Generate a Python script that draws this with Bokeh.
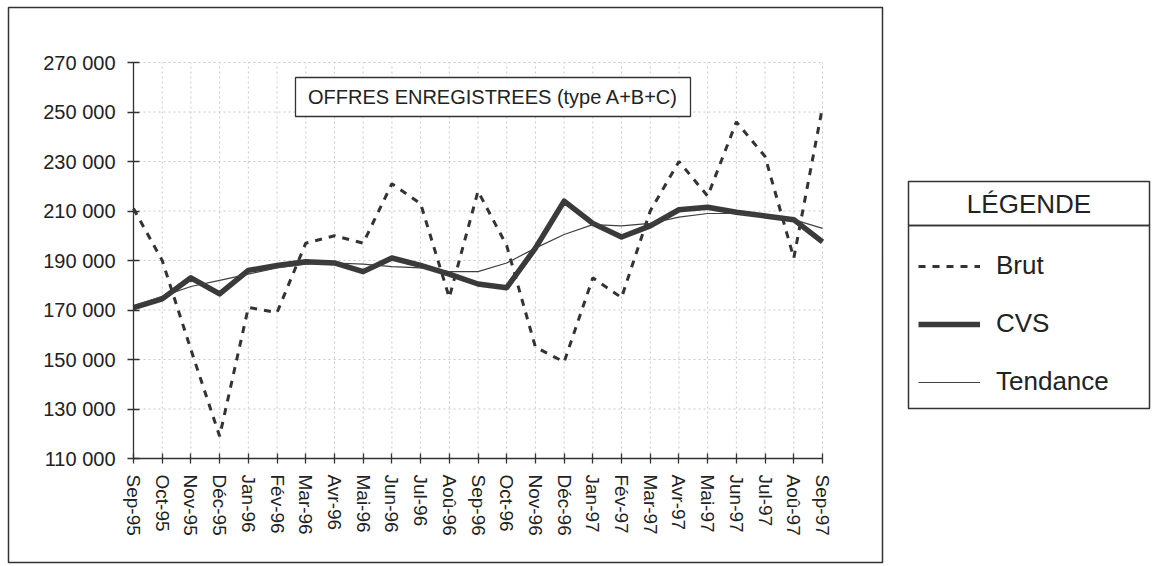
from bokeh.plotting import figure
from bokeh.models import Range1d, FixedTicker, BoxAnnotation, Label, Legend, LegendItem
from bokeh.embed import file_html
from bokeh.resources import INLINE

# ---- data ----
months = ["Sep-95", "Oct-95", "Nov-95", "Déc-95", "Jan-96", "Fév-96", "Mar-96", "Avr-96",
          "Mai-96", "Jun-96", "Jul-96", "Aoû-96", "Sep-96", "Oct-96", "Nov-96", "Déc-96",
          "Jan-97", "Fév-97", "Mar-97", "Avr-97", "Mai-97", "Jun-97", "Jul-97", "Aoû-97", "Sep-97"]
brut = [211000, 190000, 154000, 119000, 171000, 169000, 197000, 200000, 197000, 221000,
        213000, 175000, 218000, 196000, 155000, 149000, 183000, 175000, 210000, 230000,
        216000, 246000, 232000, 191000, 252000]
cvs = [171000, 174500, 183000, 176500, 186000, 188000, 189500, 189000, 185500, 191000,
       188000, 184500, 180500, 179000, 195000, 214000, 205000, 199500, 204000, 210500,
       211500, 209500, 208000, 206500, 197500]
tendance = [171500, 175500, 179500, 182000, 184500, 187000, 188500, 189000, 188500, 187500,
            187000, 185500, 185500, 189000, 195000, 200500, 204500, 204000, 205000, 207500,
            209000, 209000, 208000, 206500, 203000]
y_ticks = [110000, 130000, 150000, 170000, 190000, 210000, 230000, 250000, 270000]
y_tick_labels = ["110 000", "130 000", "150 000", "170 000", "190 000",
                 "210 000", "230 000", "250 000", "270 000"]
title_text = "OFFRES ENREGISTREES (type A+B+C)"
legend_title = "LÉGENDE"
series_names = ["Brut", "CVS", "Tendance"]

# ---- layout (page pixels) ----
W, H = 1156, 564
PX0, PX1 = 133, 822      # first / last month
PY_TOP, PY_BOT = 62, 458  # top / bottom of value axis
FONT = "Liberation Sans"
INK = "#333333"
TXT = "#222222"

x = list(range(len(months)))
n = len(months) - 1
ymin, ymax = y_ticks[0], y_ticks[-1]
sx = (PX1 - PX0) / n
sy = (PY_BOT - PY_TOP) / (ymax - ymin)
x_range = Range1d(0 - PX0 / sx, n + (W - PX1) / sx)
y_range = Range1d(ymin - (H - PY_BOT) / sy, ymax + PY_TOP / sy)

p = figure(width=W, height=H, output_backend="svg", toolbar_location=None,
           x_range=x_range, y_range=y_range, min_border=0)
p.outline_line_color = None
p.background_fill_color = "white"
p.border_fill_color = "white"
p.grid.visible = False

# grid (dotted), limited to the plotting area
p.segment(x0=x, y0=[ymin] * len(x), x1=x, y1=[ymax] * len(x),
          line_color="#c8c8c8", line_width=1, line_dash="2 3")
p.segment(x0=[0] * len(y_ticks), y0=y_ticks, x1=[n] * len(y_ticks), y1=y_ticks,
          line_color="#c8c8c8", line_width=1, line_dash="2 3")

r_brut = p.line(x, brut, line_color=INK, line_width=3, line_dash="7 7")
r_cvs = p.line(x, cvs, line_color="#3a3a3a", line_width=5.5, line_join="round")
r_tend = p.line(x, tendance, line_color="#404040", line_width=1.2)

# axes drawn at fixed locations inside the canvas
p.xaxis.fixed_location = ymin
p.yaxis.fixed_location = 0
p.xaxis.ticker = FixedTicker(ticks=x)
p.xaxis.major_label_overrides = {i: m for i, m in zip(x, months)}
p.xaxis.major_label_orientation = "vertical"
p.xaxis.bounds = (0, n)
p.yaxis.ticker = FixedTicker(ticks=y_ticks)
p.yaxis.major_label_overrides = dict(zip(y_ticks, y_tick_labels))
p.yaxis.bounds = (ymin, ymax)
for ax in (p.xaxis[0], p.yaxis[0]):
    ax.axis_line_color = INK
    ax.axis_line_width = 1.3
    ax.major_tick_line_color = INK
    ax.major_tick_line_width = 1.3
    ax.minor_tick_line_color = None
    ax.major_label_text_font = FONT
    ax.major_label_text_color = TXT
p.yaxis.major_tick_in = 6
p.yaxis.major_tick_out = 6
p.yaxis.major_label_text_font_size = "20px"
p.yaxis.major_label_standoff = 12
p.xaxis.major_tick_in = 5
p.xaxis.major_tick_out = 5
p.xaxis.major_label_text_font_size = "19px"
p.xaxis.major_label_standoff = 11


def cbox(l, t, r, b, fill=None, lw=1.5):
    return BoxAnnotation(left=l, right=r, top=t, bottom=b,
                         left_units="canvas", right_units="canvas",
                         top_units="canvas", bottom_units="canvas",
                         fill_color=fill, fill_alpha=1 if fill else 0,
                         line_color=INK, line_alpha=1, line_width=lw)


# outer chart box
p.add_layout(cbox(8, 7, 882, 562))
# title box
p.add_layout(cbox(295, 77, 690, 116, fill="white", lw=1.3))
p.add_layout(Label(x=492.5, y=96.5, x_units="canvas", y_units="canvas", text=title_text,
                   text_align="center", text_baseline="middle", text_font=FONT,
                   text_font_size="20px", text_color=TXT))
# legend boxes
p.add_layout(cbox(908, 181, 1149, 225))
p.add_layout(cbox(908, 225, 1149, 408))
p.add_layout(Label(x=1028.5, y=203, x_units="canvas", y_units="canvas", text=legend_title,
                   text_align="center", text_baseline="middle", text_font=FONT,
                   text_font_size="26px", text_color=TXT))

legend = Legend(items=[LegendItem(label=series_names[0], renderers=[r_brut]),
                       LegendItem(label=series_names[1], renderers=[r_cvs]),
                       LegendItem(label=series_names[2], renderers=[r_tend])],
                location=(918, H - 397), orientation="vertical",
                glyph_width=62, glyph_height=30, label_height=30, label_standoff=16,
                spacing=27, padding=0, margin=0, border_line_color=None,
                background_fill_alpha=0, label_text_font=FONT,
                label_text_font_size="26px", label_text_color=TXT)
p.add_layout(legend)

open("out.html", "w").write(file_html(p, INLINE))
